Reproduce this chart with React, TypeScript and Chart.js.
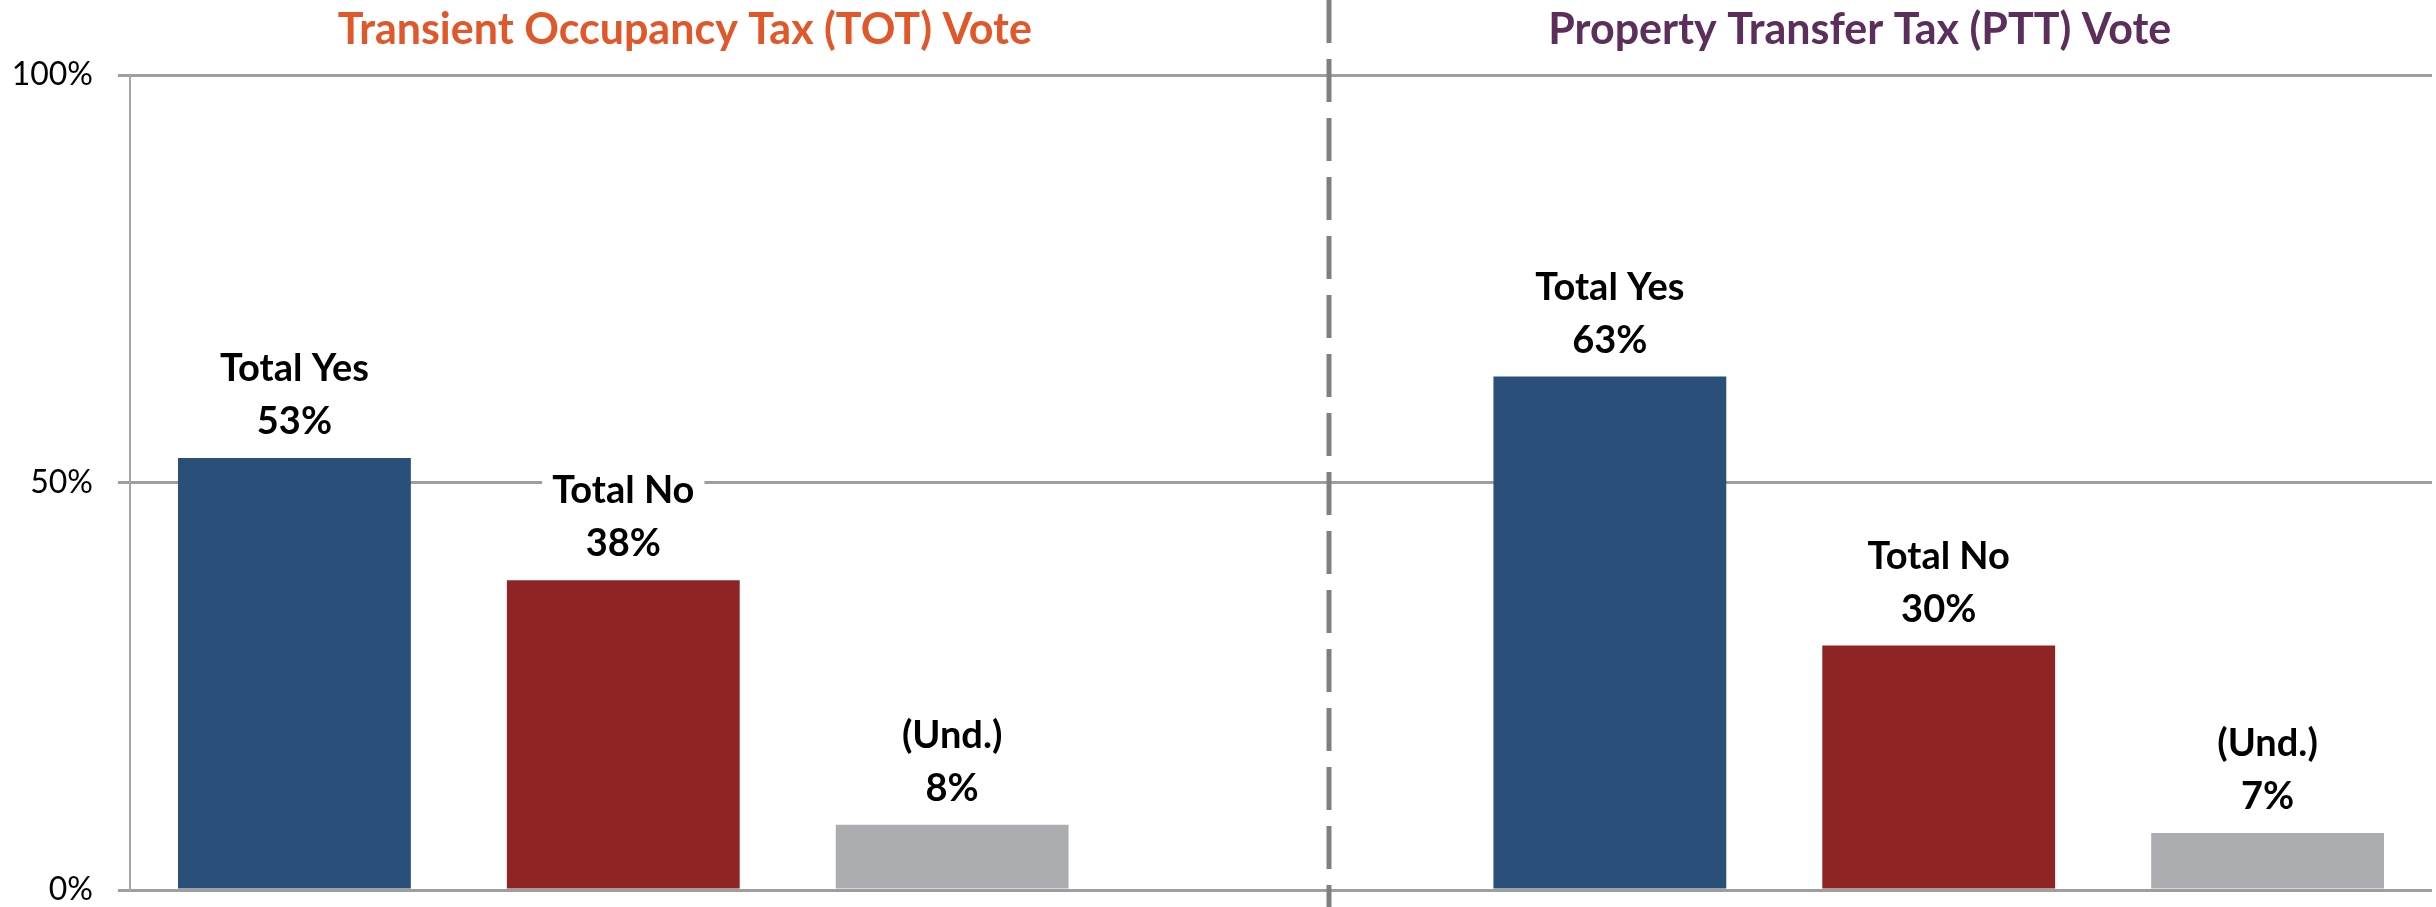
import React, { useEffect, useRef } from 'react';
import { Chart, registerables } from 'chart.js';

Chart.register(...registerables);

// ---- data ----
const categories = ['Total Yes', 'Total No', '(Und.)'];
const totValues = [53, 38, 8];
const pttValues = [63, 30, 7];
const groupTitles = ['Transient Occupancy Tax (TOT) Vote', 'Property Transfer Tax (PTT) Vote'];
const yTickValues = [0, 50, 100];

// ---- styles ----
const barColors = ['#2A4F78', '#8E2424', '#ACADB0'];
const titleColors = ['#E0582A', '#5B2E5C'];
const FONT = 'Lato, "Open Sans", sans-serif';

export default function App() {
  const ref = useRef<HTMLCanvasElement>(null);

  useEffect(() => {
    const labels = [...categories, '', ...categories];
    const values: (number | null)[] = [...totValues, null, ...pttValues];
    const colors = [...barColors, 'rgba(0,0,0,0)', ...barColors];

    const titlePlugin = {
      id: 'groupTitles',
      afterDraw(chart: any) {
        const { ctx } = chart;
        const x = chart.scales.x;
        const positions = [1.187, 4.76];
        ctx.save();
        ctx.font = `bold 43px ${FONT}`;
        ctx.textAlign = 'center';
        ctx.textBaseline = 'alphabetic';
        groupTitles.forEach((t, i) => {
          ctx.fillStyle = titleColors[i];
          ctx.fillText(t, x.getPixelForValue(positions[i]), 44);
        });
        ctx.restore();
      },
    };

    const separatorPlugin = {
      id: 'separator',
      afterDraw(chart: any) {
        const { ctx } = chart;
        const px = Math.round(chart.scales.x.getPixelForValue(3.145));
        ctx.save();
        ctx.strokeStyle = '#7F7F7F';
        ctx.lineWidth = 5;
        ctx.setLineDash([43, 16]);
        ctx.beginPath();
        ctx.moveTo(px, 0);
        ctx.lineTo(px, chart.height);
        ctx.stroke();
        ctx.restore();
      },
    };

    const barLabelPlugin = {
      id: 'barLabels',
      afterDatasetsDraw(chart: any) {
        const { ctx } = chart;
        const meta = chart.getDatasetMeta(0);
        ctx.save();
        ctx.font = `bold 38px ${FONT}`;
        ctx.textAlign = 'center';
        ctx.textBaseline = 'alphabetic';
        const items: { t: string; x: number; y: number }[] = [];
        meta.data.forEach((bar: any, i: number) => {
          const v = values[i];
          if (v == null) return;
          items.push({ t: labels[i], x: bar.x, y: bar.y - 77 });
          items.push({ t: `${v}%`, x: bar.x, y: bar.y - 24 });
        });
        items.forEach(({ t, x, y }) => {
          const w = ctx.measureText(t).width;
          ctx.fillStyle = '#FFFFFF';
          ctx.fillRect(x - w / 2 - 10, y - 32, w + 20, 42);
        });
        ctx.fillStyle = '#000000';
        items.forEach(({ t, x, y }) => ctx.fillText(t, x, y));
        ctx.restore();
      },
    };

    const chart = new Chart(ref.current as HTMLCanvasElement, {
      type: 'bar',
      data: {
        labels,
        datasets: [
          {
            data: values,
            backgroundColor: colors,
            barPercentage: 0.708,
            categoryPercentage: 1,
          },
        ],
      },
      options: {
        animation: false,
        responsive: false,
        maintainAspectRatio: false,
        layout: { padding: { top: 75, bottom: 17, left: 0, right: 4 } },
        plugins: {
          legend: { display: false },
          tooltip: { enabled: false },
        },
        scales: {
          x: {
            display: false,
          },
          y: {
            min: 0,
            max: 100,
            afterBuildTicks: (axis: any) => {
              axis.ticks = yTickValues.map((v) => ({ value: v }));
            },
            afterFit: (scale: any) => {
              scale.width = 130;
              scale.paddingTop = 0;
              scale.paddingBottom = 0;
            },
            ticks: {
              callback: (v: any) => `${v}%`,
              font: { family: FONT, size: 32 },
              color: '#000000',
              padding: 25,
            },
            grid: { color: '#9E9E9E', lineWidth: 3, tickLength: 12 },
            border: { display: true, color: '#A6A6A6', width: 2 },
          },
        },
      },
      plugins: [barLabelPlugin, titlePlugin, separatorPlugin],
    });
    return () => chart.destroy();
  }, []);

  return (
    <div style={{ position: 'absolute', left: 0, top: 0, width: 2436, height: 907, background: '#fff' }}>
      <canvas ref={ref} width={2436} height={907} style={{ width: 2436, height: 907 }} />
    </div>
  );
}
